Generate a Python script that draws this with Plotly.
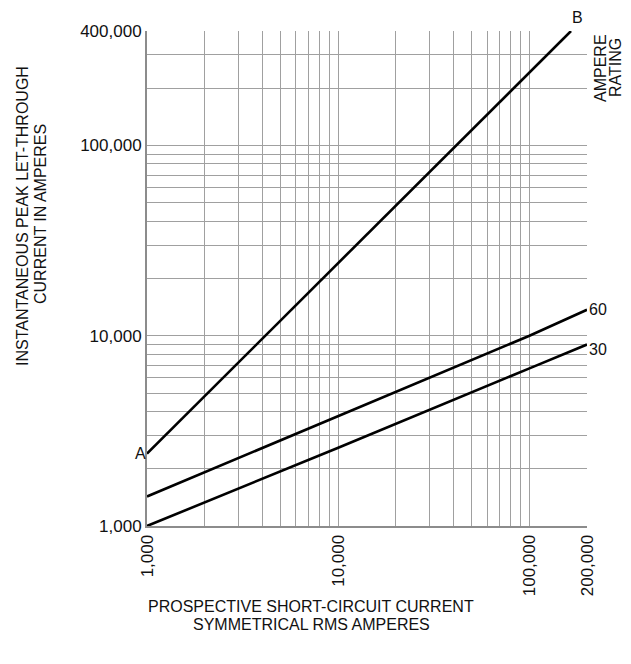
import numpy as np
import plotly.graph_objects as go

# ---- data ----
curve_ab_x = [1000, 165000]
curve_ab_y = [2400, 400000]
rating60_x = [1000, 10000, 100000, 200000]
rating60_y = [1430, 3800, 10000, 13700]
rating30_x = [1000, 10000, 100000, 200000]
rating30_y = [1000, 2580, 6740, 9000]

x_labeled = {1000: "1,000", 10000: "10,000", 100000: "100,000", 200000: "200,000"}
y_labeled = {1000: "1,000", 10000: "10,000", 100000: "100,000", 400000: "400,000"}

x_grid = [m * d for d in (1000, 10000) for m in range(1, 10)] + [100000, 200000]
y_grid = [m * d for d in (1000, 10000) for m in range(1, 10)] + [100000, 200000, 300000, 400000]

FONT = "Liberation Sans, Arial, sans-serif"
W, H = 631, 664
L, R, T, B = 147, 587, 31, 526

fig = go.Figure()
line_style = dict(color="black", width=2.6)
for xs, ys in [(curve_ab_x, curve_ab_y), (rating60_x, rating60_y), (rating30_x, rating30_y)]:
    fig.add_trace(go.Scatter(x=xs, y=ys, mode="lines", line=line_style,
                             showlegend=False, hoverinfo="skip", cliponaxis=False))

fig.update_xaxes(
    type="log", range=[np.log10(1000), np.log10(200000)],
    tickvals=x_grid, ticktext=[x_labeled.get(v, "") for v in x_grid],
    tickangle=-90, ticks="", showgrid=True, gridcolor="#a0a0a0", gridwidth=1,
    showline=True, linecolor="#8c8c8c", linewidth=2, zeroline=False,
    tickfont=dict(family=FONT, size=17, color="#111"),
)
fig.update_yaxes(
    type="log", range=[np.log10(1000), np.log10(400000)],
    tickvals=y_grid, ticktext=[y_labeled.get(v, "") for v in y_grid],
    ticks="", showgrid=True, gridcolor="#a0a0a0", gridwidth=1,
    showline=True, linecolor="#8c8c8c", linewidth=2, zeroline=False,
    tickfont=dict(family=FONT, size=17, color="#111"),
)

def px(x):
    return (x - L) / (R - L)

def py(y):
    return (B - y) / (B - T)

ann = []
def text(t, x, y, angle=0, size=16, **kw):
    ann.append(dict(text=t, x=px(x), y=py(y), xref="paper", yref="paper",
                    showarrow=False, textangle=angle,
                    font=dict(family=FONT, size=size, color="#111"),
                    xanchor="center", yanchor="middle", **kw))

text("INSTANTANEOUS PEAK LET-THROUGH", 23, 216, angle=-90)
text("CURRENT IN AMPERES", 40, 214, angle=-90)
text("PROSPECTIVE SHORT-CIRCUIT CURRENT", 311, 606)
text("SYMMETRICAL RMS AMPERES", 311, 624)
text("AMPERE", 600, 68, angle=-90)
text("RATING", 615, 68, angle=-90)

for t, xv, yv, xs, ys in [
    ("A", 1000, curve_ab_y[0], -7, 0),
    ("B", curve_ab_x[-1], curve_ab_y[-1], 6, 14),
    ("60", rating60_x[-1], rating60_y[-1], 11, 0),
    ("30", rating30_x[-1], rating30_y[-1], 11, -5),
]:
    ann.append(dict(text=t, x=np.log10(xv), y=np.log10(yv), xref="x", yref="y",
                    showarrow=False, xshift=xs, yshift=ys,
                    font=dict(family=FONT, size=16, color="#111"),
                    xanchor="center", yanchor="middle"))

fig.update_layout(
    width=W, height=H,
    margin=dict(l=L, r=W - R, t=T, b=H - B),
    plot_bgcolor="white", paper_bgcolor="white",
    annotations=ann,
)
fig.write_html("out.html", config={"displayModeBar": False},
               post_script="document.body.style.margin='0px';")
